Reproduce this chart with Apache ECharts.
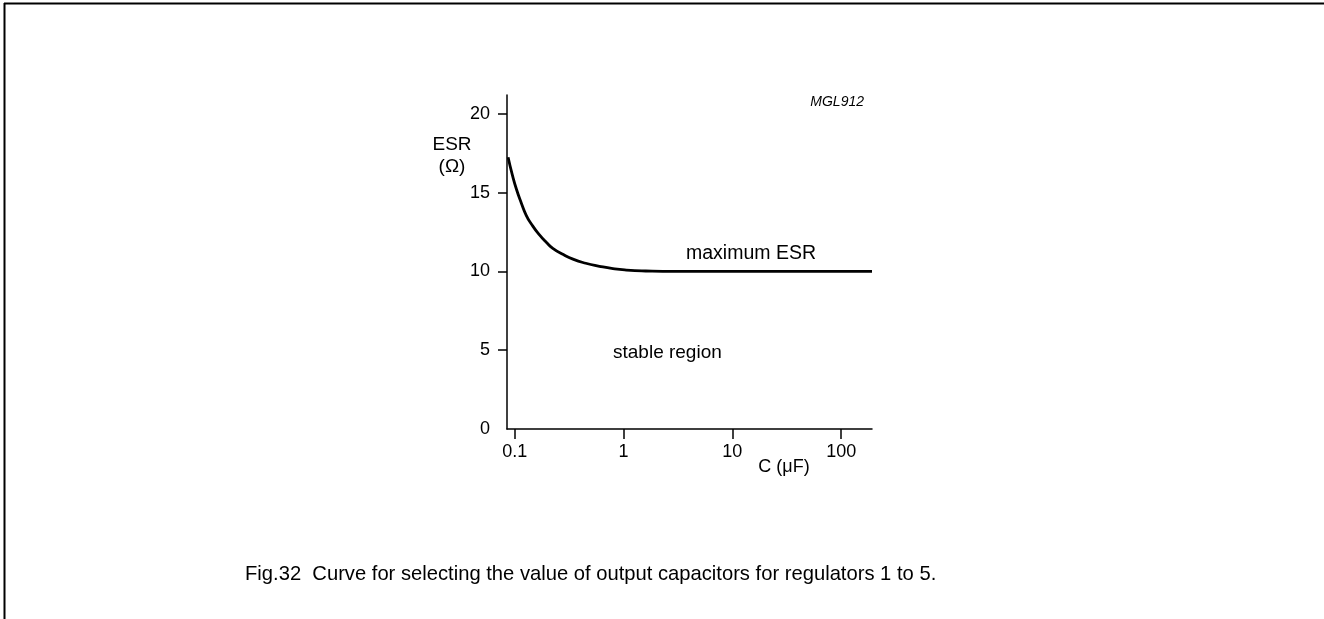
<!DOCTYPE html>
<html>
<head>
<meta charset="utf-8">
<title>Fig.32 ESR curve</title>
<script src="https://cdn.jsdelivr.net/npm/echarts@6/dist/echarts.min.js"></script>
<style>
  html, body { margin: 0; padding: 0; background: #fff; }
  #chart { width: 1324px; height: 619px; }
</style>
</head>
<body>
<div id="chart"></div>
<script>
// values
const capValues = [0.087, 0.095, 0.104, 0.115, 0.128, 0.145, 0.169, 0.195, 0.224, 0.28, 0.343, 0.45, 0.6, 0.8, 1.06, 1.6, 3, 10, 100, 192];
const esrValues = [17.25, 16.15, 15.2, 14.35, 13.55, 12.93, 12.32, 11.85, 11.47, 11.07, 10.78, 10.52, 10.33, 10.18, 10.09, 10.03, 10, 10, 10, 10];
const xTicks = [0.1, 1, 10, 100];
const yTicks = [5, 10, 15, 20];
const yLabels = [0, 5, 10, 15, 20];

const font = 'Liberation Sans, Arial, sans-serif';
const lg = v => Math.log10(v);

// x drawn on a log10 value axis
const curve = capValues.map((c, i) => [lg(c), esrValues[i]]);

const chart = echarts.init(document.getElementById('chart'), null, { renderer: 'canvas' });

chart.setOption({
  animation: false,
  backgroundColor: '#fff',
  grid: { left: 507, right: 452, top: 95, bottom: 190 },
  xAxis: {
    type: 'value',
    min: lg(0.085),
    max: lg(192),
    splitLine: { show: false },
    axisLine: { onZero: false, lineStyle: { color: '#000', width: 1.5 } },
    axisTick: {
      customValues: xTicks.map(lg),
      length: 10,
      lineStyle: { color: '#000', width: 1.5 }
    },
    axisLabel: {
      customValues: xTicks.map(lg),
      margin: 14,
      color: '#000',
      fontFamily: font,
      fontSize: 18,
      formatter: v => String(Math.round(Math.pow(10, v) * 10) / 10)
    }
  },
  yAxis: {
    type: 'value',
    min: 0,
    max: 21.2,
    splitLine: { show: false },
    axisLine: { onZero: false, lineStyle: { color: '#000', width: 1.5 } },
    axisTick: {
      customValues: yTicks,
      length: 9,
      lineStyle: { color: '#000', width: 1.5 }
    },
    axisLabel: {
      customValues: yLabels,
      margin: 17,
      color: '#000',
      fontFamily: font,
      fontSize: 18
    }
  },
  series: [{
    type: 'line',
    data: curve,
    smooth: 0.55,
    symbol: 'none',
    lineStyle: { color: '#000', width: 2.8 }
  }],
  graphic: [
    // frame
    { type: 'line', shape: { x1: 4, y1: 3.5, x2: 1324, y2: 3.5 }, style: { stroke: '#000', lineWidth: 2 } },
    { type: 'line', shape: { x1: 4.5, y1: 3, x2: 4.5, y2: 619 }, style: { stroke: '#000', lineWidth: 2 } },
    { type: 'text', x: 864, y: 102, style: { text: 'MGL912', font: 'italic 14px ' + font, fill: '#000', align: 'right', verticalAlign: 'middle' } },
    { type: 'text', x: 452, y: 145, style: { text: 'ESR', font: '19px ' + font, fill: '#000', align: 'center', verticalAlign: 'middle' } },
    { type: 'text', x: 452, y: 167, style: { text: '(\u03A9)', font: '19px ' + font, fill: '#000', align: 'center', verticalAlign: 'middle' } },
    { type: 'text', x: 686, y: 254, style: { text: 'maximum ESR', font: '19.5px ' + font, fill: '#000', align: 'left', verticalAlign: 'middle' } },
    { type: 'text', x: 613, y: 353, style: { text: 'stable region', font: '19px ' + font, fill: '#000', align: 'left', verticalAlign: 'middle' } },
    { type: 'text', x: 784, y: 467, style: { text: 'C (\u03BCF)', font: '18px ' + font, fill: '#000', align: 'center', verticalAlign: 'middle' } },
    { type: 'text', x: 245, y: 574, style: { text: 'Fig.32  Curve for selecting the value of output capacitors for regulators 1 to 5.', font: '20.2px ' + font, fill: '#000', align: 'left', verticalAlign: 'middle' } }
  ]
});
</script>
</body>
</html>
